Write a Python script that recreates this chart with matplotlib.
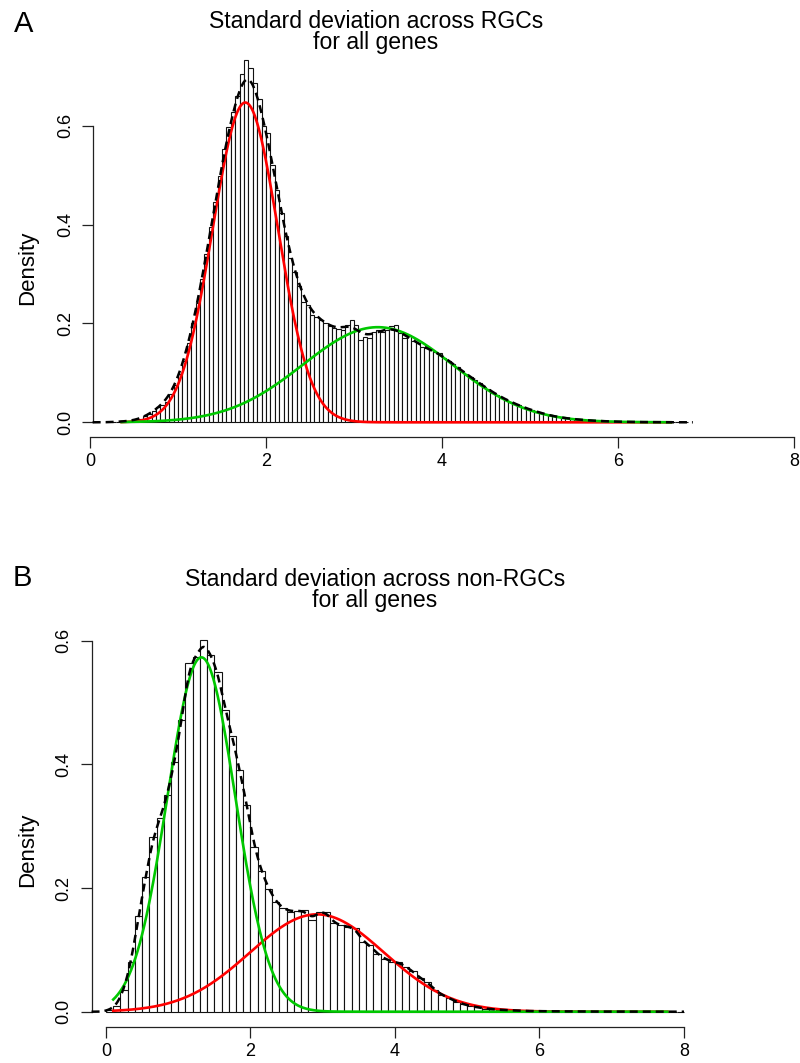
import numpy as np
import matplotlib
matplotlib.use("Agg")
import matplotlib.pyplot as plt

plt.rcParams['font.family'] = ['Liberation Sans', 'DejaVu Sans']

# ---- data ----
# panel A: SD across RGCs, bins of 0.05 from 0.25
a_bin_start = 0.25
a_bin_width = 0.05
a_heights = [
    0.001, 0.001, 0.002, 0.002, 0.003, 0.004, 0.007, 0.012, 0.016, 0.022,
    0.030, 0.036, 0.042, 0.058, 0.075, 0.098, 0.124, 0.160, 0.200, 0.242,
    0.290, 0.340, 0.395, 0.445, 0.498, 0.552, 0.598, 0.628, 0.660, 0.704,
    0.733, 0.716, 0.686, 0.655, 0.600, 0.585, 0.520, 0.470, 0.423, 0.376,
    0.332, 0.305, 0.275, 0.244, 0.237, 0.217, 0.214, 0.207, 0.200, 0.194,
    0.190, 0.188, 0.187, 0.197, 0.207, 0.197, 0.167, 0.173, 0.170, 0.183,
    0.187, 0.183, 0.187, 0.194, 0.197, 0.180, 0.170, 0.177, 0.165, 0.160,
    0.152, 0.150, 0.146, 0.142, 0.140, 0.131, 0.125, 0.118, 0.112, 0.104,
    0.098, 0.092, 0.085, 0.080, 0.072, 0.068, 0.060, 0.056, 0.050, 0.046,
    0.042, 0.038, 0.034, 0.030, 0.027, 0.025, 0.021, 0.019, 0.016, 0.014,
    0.012, 0.010, 0.009, 0.008, 0.007, 0.006, 0.005, 0.004, 0.004, 0.003,
    0.003, 0.002, 0.002, 0.002, 0.001, 0.001, 0.001, 0.001, 0.0005, 0.0005,
    0.0005, 0.0003, 0.0003, 0.0002, 0.0002, 0.0001, 0.0001, 0.0001, 0.0, 0.0,
    0.0001,
]
# fitted normal components: [red, green]
a_means = [1.765, 3.27]
a_sds = [0.37, 0.85]
a_weights = [0.60, 0.41]
a_range = [0.36, 6.6]

# panel B: SD across non-RGCs, bins of 0.1 from 0
b_bin_start = 0.0
b_bin_width = 0.1
b_heights = [
    0.003, 0.010, 0.035, 0.080, 0.154, 0.218, 0.283, 0.313, 0.350, 0.404,
    0.472, 0.563, 0.574, 0.601, 0.577, 0.550, 0.487, 0.445, 0.390, 0.335,
    0.267, 0.227, 0.199, 0.178, 0.167, 0.162, 0.163, 0.164, 0.148, 0.162,
    0.162, 0.143, 0.140, 0.137, 0.136, 0.113, 0.108, 0.094, 0.086, 0.081,
    0.080, 0.073, 0.065, 0.054, 0.048, 0.035, 0.027, 0.022, 0.016, 0.012,
    0.009, 0.007, 0.005, 0.004, 0.003, 0.0025, 0.002, 0.0015, 0.001, 0.001,
    0.0008, 0.0007, 0.0006, 0.0005, 0.0004, 0.0003, 0.0003, 0.0002, 0.0002, 0.0002,
    0.0001, 0.0001, 0.0001, 0.0001, 0.0001, 0.0, 0.0, 0.0001, 0.0, 0.0,
]
# fitted normal components: [red, green]
b_means = [2.92, 1.32]
b_sds = [0.93, 0.47]
b_weights = [0.367, 0.675]
b_range = [0.1, 7.77]

x_ticks = [0, 2, 4, 6, 8]
y_ticks = [0.0, 0.2, 0.4, 0.6]

RED = '#FF0000'
GREEN = '#00C800'
W, H = 800, 1063


def npdf(x, m, s):
    return np.exp(-0.5 * ((x - m) / s) ** 2) / (s * np.sqrt(2 * np.pi))


def binned_kde(grid, start, width, heights, bw):
    heights = np.asarray(heights)
    centers = start + width * (np.arange(len(heights)) + 0.5)
    out = np.zeros_like(grid)
    for c, h in zip(centers, heights):
        out += h * width * npdf(grid, c, bw)
    return out


def make_axes(fig, x0, xs, y0, ys, xlim, ylim):
    # x0,y0: pixel position of data (0,0); xs,ys: pixels per unit
    left = (x0 + xs * xlim[0]) / W
    right = (x0 + xs * xlim[1]) / W
    bottom = (H - (y0 - ys * ylim[0])) / H
    top = (H - (y0 - ys * ylim[1])) / H
    ax = fig.add_axes([left, bottom, right - left, top - bottom])
    ax.set_xlim(*xlim)
    ax.set_ylim(*ylim)
    return ax


def draw_panel(ax, start, width, heights, means, sds, weights, crange,
               kde_bw, kde_lo, kde_hi, colors, yaxis_x, xaxis_y):
    n = len(heights)
    edges = start + width * np.arange(n)
    ax.bar(edges, heights, width=width, align='edge', color='white',
           edgecolor='#111111', linewidth=0.8, zorder=1)

    xc = np.linspace(crange[0], crange[1], 500)
    for m, s, w, c in zip(means, sds, weights, colors):
        ax.plot(xc, w * npdf(xc, m, s), color=c, lw=1.9, zorder=2)

    grid = np.linspace(kde_lo, kde_hi, 600)
    dens = binned_kde(grid, start, width, heights, kde_bw)
    ax.plot(grid, dens, color='black', lw=1.8, linestyle=(0, (3.2, 2.0)), zorder=3)

    for side in ['top', 'right']:
        ax.spines[side].set_visible(False)
    ax.spines['left'].set_position(('data', yaxis_x))
    ax.spines['left'].set_bounds(0, 0.6)
    ax.spines['bottom'].set_position(('data', xaxis_y))
    ax.spines['bottom'].set_bounds(0, 8)
    for sp in ['left', 'bottom']:
        ax.spines[sp].set_linewidth(0.9)
        ax.spines[sp].set_color('#222222')
    ax.set_xticks(x_ticks)
    ax.set_xticklabels([str(t) for t in x_ticks], fontsize=13)
    ax.set_yticks(y_ticks)
    ax.set_yticklabels([f"{t:.1f}" for t in y_ticks], fontsize=13,
                       rotation=90, va='center')
    ax.tick_params(axis='both', direction='out', length=8, width=0.9,
                   color='#222222')
    ax.tick_params(axis='x', pad=4)
    ax.tick_params(axis='y', pad=6)
    ax.patch.set_alpha(0)


fig = plt.figure(figsize=(W / 100, H / 100), dpi=100)

# ---- panel A ----
axA = make_axes(fig, 90, 88.0, 422.3, 494.3, (-0.4, 8.1), (-0.06, 0.76))
draw_panel(axA, a_bin_start, a_bin_width, a_heights, a_means, a_sds, a_weights,
           a_range, 0.09, 0.03, 6.85, [RED, GREEN], 0.037, -0.0293)
fig.text(24 / W, 1 - 24 / H, 'A', fontsize=21, ha='center', va='center')
fig.text(376 / W, 1 - 21 / H, 'Standard deviation across RGCs',
         fontsize=16.6, ha='center', va='center')
fig.text(376 / W, 1 - 42 / H, 'for all genes',
         fontsize=16.6, ha='center', va='center')
fig.text(28 / W, 1 - 268 / H, 'Density', fontsize=16, rotation=90,
         ha='center', va='center')

# ---- panel B ----
axB = make_axes(fig, 106, 72.25, 1011.7, 618.5, (-0.4, 8.2), (-0.03, 0.72))
draw_panel(axB, b_bin_start, b_bin_width, b_heights, b_means, b_sds, b_weights,
           b_range, 0.07, -0.2, 8.0, [RED, GREEN], -0.198, -0.0243)
fig.text(22 / W, 1 - 578 / H, 'B', fontsize=21, ha='center', va='center')
fig.text(375 / W, 1 - 580 / H, 'Standard deviation across non-RGCs',
         fontsize=16.6, ha='center', va='center')
fig.text(375 / W, 1 - 601 / H, 'for all genes',
         fontsize=16.6, ha='center', va='center')
fig.text(28 / W, 1 - 850 / H, 'Density', fontsize=16, rotation=90,
         ha='center', va='center')

fig.savefig('out.png', dpi=100, facecolor='white')
